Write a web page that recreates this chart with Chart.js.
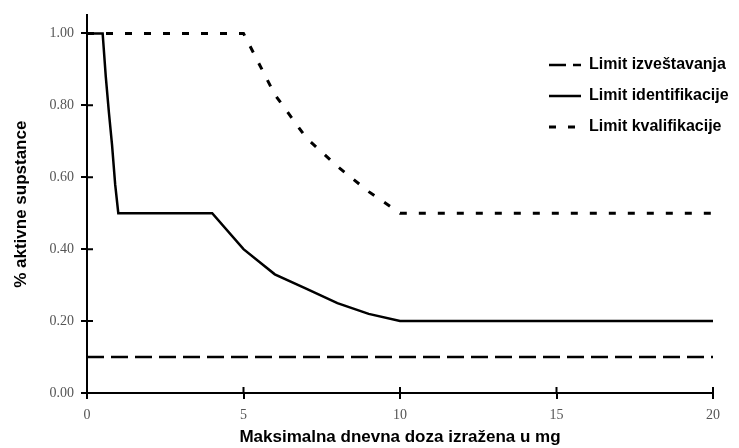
<!DOCTYPE html>
<html>
<head>
<meta charset="utf-8">
<script src="https://cdn.jsdelivr.net/npm/chart.js@4/dist/chart.umd.min.js"></script>
<style>
html, body { margin: 0; padding: 0; background: #fff; }
#wrap { width: 739px; height: 448px; }
</style>
</head>
<body>
<div id="wrap"><canvas id="chart"></canvas></div>
<script>
'use strict';

const seriesNames = ['Limit izveštavanja', 'Limit identifikacije', 'Limit kvalifikacije'];

const reportX = [0, 20];
const reportY = [0.10, 0.10];

const identX = [0, 0.5, 0.6, 0.7, 0.8, 0.9, 1, 4, 5, 6, 7, 8, 9, 10, 20];
const identY = [1.00, 1.00, 0.88, 0.78, 0.69, 0.58, 0.50, 0.50, 0.40, 0.33, 0.29, 0.25, 0.22, 0.20, 0.20];

const qualX = [0, 5, 6, 7, 8, 9, 10, 20];
const qualY = [1.00, 1.00, 0.83, 0.71, 0.63, 0.56, 0.50, 0.50];

const xTicks = [0, 5, 10, 15, 20];
const yTicks = [0, 0.2, 0.4, 0.6, 0.8, 1.0];

const sans = '"Liberation Sans", Arial, sans-serif';
const serif = '"Liberation Serif", "Times New Roman", serif';

function pts(xs, ys) {
  return xs.map((x, i) => ({ x: x, y: ys[i] }));
}

// tick marks cross the axis lines, so draw the inner half too
const innerTicks = {
  id: 'innerTicks',
  afterDraw(chart) {
    const { ctx, scales: { x, y } } = chart;
    ctx.save();
    ctx.strokeStyle = '#000';
    ctx.lineWidth = 2;
    ctx.beginPath();
    x.ticks.forEach(t => {
      const px = x.getPixelForValue(t.value);
      ctx.moveTo(px, x.top);
      ctx.lineTo(px, x.top - 6);
    });
    y.ticks.forEach(t => {
      const py = y.getPixelForValue(t.value);
      ctx.moveTo(y.right, py);
      ctx.lineTo(y.right + 6, py);
    });
    ctx.stroke();
    ctx.restore();
  }
};

// move the legend into the upper right corner of the plot
const legendSpot = {
  id: 'legendSpot',
  afterLayout(chart) {
    const l = chart.legend;
    const w = l.width, h = l.height;
    l.left = 534;
    l.top = 42;
    l.right = l.left + w;
    l.bottom = l.top + h;
  }
};

const ctx = document.getElementById('chart').getContext('2d');
new Chart(ctx, {
  type: 'line',
  data: {
    datasets: [{
      label: seriesNames[0],
      data: pts(reportX, reportY),
      borderColor: '#000',
      borderWidth: 2.5,
      borderDash: [17, 7],
      pointRadius: 0,
      fill: false
    }, {
      label: seriesNames[1],
      data: pts(identX, identY),
      borderColor: '#000',
      borderWidth: 2.5,
      pointRadius: 0,
      fill: false
    }, {
      label: seriesNames[2],
      data: pts(qualX, qualY),
      borderColor: '#000',
      borderWidth: 3,
      borderDash: [7, 12],
      pointRadius: 0,
      fill: false
    }]
  },
  options: {
    animation: false,
    responsive: true,
    maintainAspectRatio: false,
    devicePixelRatio: 1,
    layout: { padding: { top: 11, right: 26, left: 0, bottom: 0 } },
    scales: {
      x: {
        type: 'linear',
        min: 0,
        max: 20,
        afterBuildTicks: s => { s.ticks = xTicks.map(v => ({ value: v })); },
        afterFit: s => { s.height = 55; },
        border: { display: true, color: '#000', width: 2 },
        grid: { drawOnChartArea: false, drawTicks: true, tickLength: 6, color: '#000', lineWidth: 2 },
        ticks: { color: '#555', font: { family: serif, size: 14 }, padding: 8, maxRotation: 0 },
        title: {
          display: true,
          text: 'Maksimalna dnevna doza izražena u mg',
          color: '#000',
          font: { family: sans, size: 17, weight: 'bold' },
          padding: { top: 0, bottom: 0 }
        }
      },
      y: {
        type: 'linear',
        min: 0,
        max: 1.05,
        afterBuildTicks: s => { s.ticks = yTicks.map(v => ({ value: v })); },
        afterFit: s => { s.width = 87; },
        border: { display: true, color: '#000', width: 2 },
        grid: { drawOnChartArea: false, drawTicks: true, tickLength: 6, color: '#000', lineWidth: 2 },
        ticks: {
          color: '#555',
          font: { family: serif, size: 14 },
          padding: 7,
          callback: v => Number(v).toFixed(2)
        },
        title: {
          display: true,
          text: '% aktivne supstance',
          color: '#000',
          font: { family: sans, size: 17, weight: 'bold' },
          padding: { top: 11, bottom: 0 }
        }
      }
    },
    plugins: {
      tooltip: { enabled: false },
      legend: {
        position: 'chartArea',
        align: 'start',
        labels: {
          usePointStyle: true,
          pointStyle: 'line',
          pointStyleWidth: 32,
          color: '#000',
          padding: 15,
          font: { family: sans, size: 16, weight: 'bold' },
          generateLabels: chart => {
            const items = Chart.defaults.plugins.legend.labels.generateLabels(chart);
            items.forEach(it => {
              const ds = chart.data.datasets[it.datasetIndex];
              it.lineDash = ds.borderDash || [];
              it.lineWidth = ds.borderWidth;
              it.strokeStyle = '#000';
            });
            return items;
          }
        }
      }
    }
  },
  plugins: [innerTicks, legendSpot]
});
</script>
</body>
</html>
